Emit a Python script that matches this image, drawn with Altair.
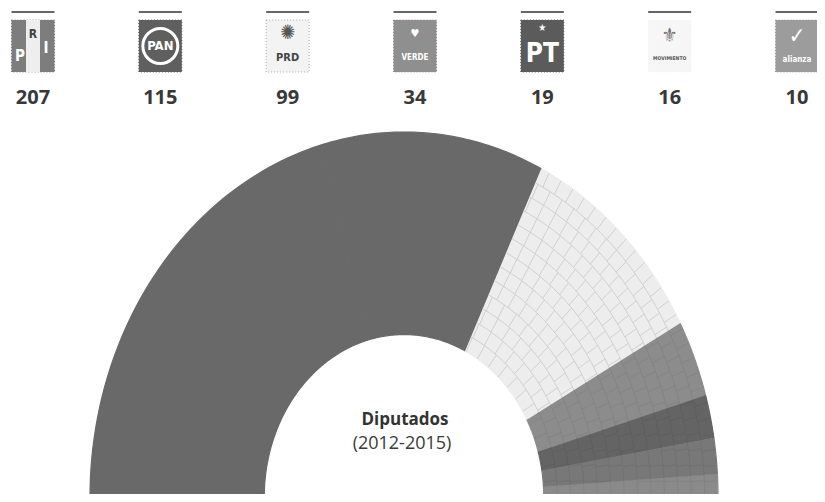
import math
import altair as alt
import pandas as pd

# ---- data ----
parties = ["PRI", "PAN", "PRD", "VERDE", "PT", "MC", "NA"]
seats = [207, 115, 99, 34, 19, 16, 10]
seat_labels = ["207", "115", "99", "34", "19", "16", "10"]
title_main = "Diputados"
title_sub = "(2012-2015)"

# ---- styles ----
arc_colors = ["#696969", "#696969", "#ededed", "#8c8c8c", "#646464", "#787878", "#8a8a8a"]
grid_colors = ["#696969", "#696969", "#c9c9c9", "#828282", "#5d5d5d", "#6f6f6f", "#808080"]
logo_fill = ["#7d7d7d", "#5f5f5f", "#f3f3f3", "#8f8f8f", "#5b5b5b", "#f6f6f6", "#9c9c9c"]
logo_stroke = ["#7d7d7d", "#5f5f5f", "#aaaaaa", "#8f8f8f", "#5b5b5b", "#f6f6f6", "#9c9c9c"]

# glyphs drawn inside the logo boxes
g_party = ["PRI", "PRI", "PRI", "PAN", "PRD", "PRD", "VERDE", "VERDE", "PT", "PT", "MC", "MC", "NA", "NA"]
g_text = ["P", "R", "I", "PAN", "✺", "PRD", "♥", "VERDE", "★", "PT", "⚜", "MOVIMIENTO", "✓", "alianza"]
g_color = ["#ffffff", "#444444", "#ffffff", "#ffffff", "#555555", "#444444", "#ffffff", "#ffffff",
           "#ffffff", "#ffffff", "#777777", "#555555", "#ffffff", "#ffffff"]
g_size = [15, 12, 15, 13, 20, 11, 11, 8, 10, 26, 20, 5, 22, 8]
g_y = [48, 26, 40, 38, 25, 50, 26, 50, 20, 46, 28, 50, 28, 52]
g_dx = [-13, 0, 13, 0, 0, 0, 0, 0, 0, 0, 0, 0, 0, 0]

W, H = 809, 486
N = 60          # points per sector arc
INNER = 0.445   # inner radius (fraction of outer)
ROWS = 13       # seat rows drawn as a faint grid
CELL = 0.043    # approx seat width in radius units

df = pd.DataFrame({
    "party": parties, "seats": seats, "order": list(range(len(parties))),
    "label": seat_labels, "logo": logo_fill, "logostroke": logo_stroke,
})
glyphs = pd.DataFrame({"party": g_party, "text": g_text, "color": g_color,
                       "size": g_size, "ty": g_y, "dx": g_dx})

# ---- faint seat grid inside the lighter sectors ----
total = sum(seats)
bounds = {}
acc = 0
for p, s in zip(parties, seats):
    bounds[p] = (math.pi * (1 - acc / total), math.pi * (1 - (acc + s) / total))
    acc += s
dr = (1 - INNER) / ROWS
grid_rows = []
seg = 0
for p in parties[2:]:
    a0, a1 = bounds[p]
    for k in range(1, ROWS):
        r = INNER + k * dr
        for i in range(13):
            grid_rows.append({"seg": seg, "party": p, "ord": i, "r": r, "ang": a0 + (a1 - a0) * i / 12})
        seg += 1
    for k in range(ROWS):
        r0, r1 = INNER + k * dr, INNER + (k + 1) * dr
        n = round(math.pi * (r0 + r1) / 2 / CELL)
        for j in range(1, n):
            a = math.pi * (1 - j / n)
            if a1 + 0.004 < a < a0 - 0.004:
                grid_rows.append({"seg": seg, "party": p, "ord": 0, "r": r0, "ang": a})
                grid_rows.append({"seg": seg, "party": p, "ord": 1, "r": r1, "ang": a})
                seg += 1
grid_df = pd.DataFrame(grid_rows)

# separate x/y scales reproduce the slightly elliptical hemicycle of the scan
x_arc = alt.X("px:Q", scale=alt.Scale(domain=[-1.26115, 1.31528]), axis=None)
y_arc = alt.Y("py:Q", scale=alt.Scale(domain=[0.008219, 1.339726]), axis=None)
fill_scale = alt.Scale(domain=parties, range=arc_colors)

sectors = alt.Chart(df).transform_window(
    cum="sum(seats)", sort=[alt.SortField("order")]
).transform_joinaggregate(
    total="sum(seats)"
).transform_calculate(
    a0="PI*(1-(datum.cum-datum.seats)/datum.total)",
    a1="PI*(1-datum.cum/datum.total)",
    idx=f"sequence(0,{2 * N + 2})",
).transform_flatten(["idx"]).transform_calculate(
    ang=f"datum.idx<={N} ? datum.a0+(datum.a1-datum.a0)*datum.idx/{N} : datum.a1+(datum.a0-datum.a1)*(datum.idx-{N + 1})/{N}",
    r=f"datum.idx<={N} ? 1 : {INNER}",
).transform_calculate(
    px="datum.r*cos(datum.ang)",
    py="datum.r*sin(datum.ang)",
).mark_line(strokeWidth=1.2, interpolate="linear").encode(
    x=x_arc, y=y_arc,
    fill=alt.Fill("party:N", scale=fill_scale, legend=None),
    stroke=alt.Stroke("party:N", scale=fill_scale, legend=None),
    order=alt.Order("idx:Q"),
)

grid = alt.Chart(grid_df).transform_calculate(
    px="datum.r*cos(datum.ang)",
    py="datum.r*sin(datum.ang)",
).mark_line(strokeWidth=0.8, interpolate="linear").encode(
    x=x_arc, y=y_arc,
    stroke=alt.Stroke("party:N", scale=alt.Scale(domain=parties, range=grid_colors), legend=None),
    detail="seg:N",
    order=alt.Order("ord:Q"),
)

center_main = alt.Chart(pd.DataFrame({"t": [title_main]})).mark_text(
    font="Open Sans", fontWeight="bold", fontSize=17, color="#333333", baseline="middle"
).encode(x=alt.value(397), y=alt.value(412), text="t:N")
center_sub = alt.Chart(pd.DataFrame({"t": [title_sub]})).mark_text(
    font="Open Sans", fontSize=18, color="#3a3a3a", baseline="middle"
).encode(x=alt.value(394), y=alt.value(436), text="t:N")

# ---- logo row ----
x_row = alt.X("party:N", sort=parties,
              scale=alt.Scale(type="point", domain=parties, range=[25, 789], padding=0), axis=None)

bars = alt.Chart(df).mark_rect(width=43, color="#666666").encode(
    x=x_row, y=alt.value(3), y2=alt.value(5))
boxes = alt.Chart(df).mark_rect(width=43, strokeWidth=1, strokeDash=[1, 2]).encode(
    x=x_row, y=alt.value(12), y2=alt.value(64),
    fill=alt.Fill("logo:N", scale=None), stroke=alt.Stroke("logostroke:N", scale=None))
pri_mid = alt.Chart(df).transform_filter("datum.party=='PRI'").mark_rect(width=14, color="#eeeeee").encode(
    x=x_row, y=alt.value(12), y2=alt.value(64))
pan_ring = alt.Chart(df).transform_filter("datum.party=='PAN'").mark_point(
    shape="circle", filled=False, color="#ffffff", strokeWidth=3, size=1225, opacity=1).encode(
    x=x_row, y=alt.value(38))


def glyph_layer(offset):
    return alt.Chart(glyphs).transform_filter(f"datum.dx=={offset}").mark_text(
        font="DejaVu Sans Condensed", fontWeight="bold", baseline="middle", dx=offset).encode(
        x=x_row, y=alt.Y("ty:Q", scale=None), text="text:N",
        color=alt.Color("color:N", scale=None), size=alt.Size("size:Q", scale=None))


numbers = alt.Chart(df).mark_text(font="Open Sans", fontWeight="bold", fontSize=20,
                                  color="#383838", baseline="middle").encode(
    x=x_row, y=alt.value(90), text="label:N")

row = alt.layer(bars, boxes, pri_mid, pan_ring, glyph_layer(-13), glyph_layer(0), glyph_layer(13), numbers)
hemi = alt.layer(sectors, grid, center_main, center_sub).resolve_scale(stroke="independent")

chart = alt.layer(hemi, row).resolve_scale(
    x="independent", y="independent", fill="independent", stroke="independent",
    color="independent", size="independent"
).properties(
    width=W, height=H, padding=0, autosize=alt.AutoSizeParams(type="none"), background="#ffffff"
).configure_view(stroke=None)

chart.save("out.html", embed_options={"renderer": "svg", "actions": False})
